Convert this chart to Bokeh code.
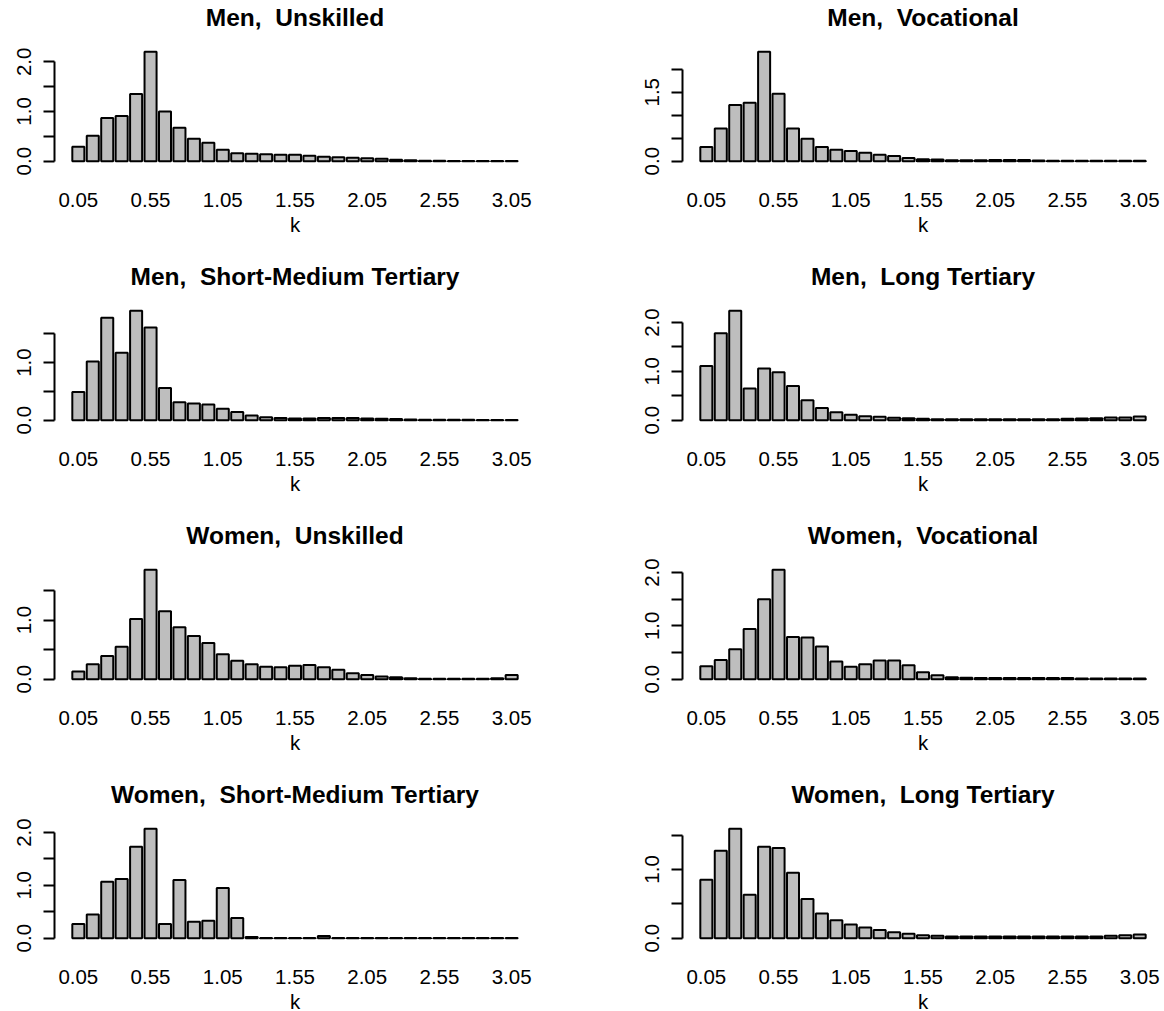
from bokeh.plotting import figure
from bokeh.layouts import gridplot
from bokeh.models import FixedTicker, NumeralTickFormatter, Range1d, ColumnDataSource, Label
from bokeh.embed import file_html
from bokeh.resources import INLINE

# bin centres (k) and x tick labels
k = [0.05, 0.15, 0.25, 0.35, 0.45, 0.55, 0.65, 0.75, 0.85, 0.95,
     1.05, 1.15, 1.25, 1.35, 1.45, 1.55, 1.65, 1.75, 1.85, 1.95,
     2.05, 2.15, 2.25, 2.35, 2.45, 2.55, 2.65, 2.75, 2.85, 2.95, 3.05]
k_labels = [0.05, 0.55, 1.05, 1.55, 2.05, 2.55, 3.05]

# titles keep the double space of the original (non-breaking so SVG keeps it)
titles = ["Men,\u00a0 Unskilled", "Men,\u00a0 Vocational",
          "Men,\u00a0 Short-Medium Tertiary", "Men,\u00a0 Long Tertiary",
          "Women,\u00a0 Unskilled", "Women,\u00a0 Vocational",
          "Women,\u00a0 Short-Medium Tertiary", "Women,\u00a0 Long Tertiary"]

men_unskilled = [0.29, 0.51, 0.87, 0.91, 1.35, 2.20, 1.00, 0.67, 0.45, 0.37,
                 0.23, 0.16, 0.15, 0.14, 0.13, 0.13, 0.11, 0.09, 0.08, 0.07,
                 0.06, 0.05, 0.03, 0.02, 0.008, 0.006, 0.005, 0.005, 0.004, 0.004, 0.004]
men_vocational = [0.31, 0.71, 1.22, 1.27, 2.38, 1.47, 0.71, 0.49, 0.31, 0.25,
                  0.22, 0.18, 0.14, 0.11, 0.07, 0.04, 0.035, 0.02, 0.02, 0.02,
                  0.025, 0.025, 0.025, 0.012, 0.01, 0.01, 0.01, 0.01, 0.01, 0.01, 0.01]
men_smt = [0.49, 1.02, 1.78, 1.17, 1.90, 1.61, 0.56, 0.31, 0.29, 0.27,
           0.20, 0.14, 0.08, 0.05, 0.035, 0.03, 0.03, 0.035, 0.035, 0.035,
           0.03, 0.025, 0.02, 0.012, 0.006, 0.005, 0.005, 0.005, 0.004, 0.004, 0.004]
men_lt = [1.11, 1.78, 2.24, 0.65, 1.06, 0.98, 0.70, 0.41, 0.25, 0.16,
          0.11, 0.08, 0.07, 0.05, 0.04, 0.03, 0.02, 0.02, 0.02, 0.02,
          0.02, 0.02, 0.02, 0.02, 0.02, 0.03, 0.035, 0.04, 0.055, 0.055, 0.075]
women_unskilled = [0.13, 0.25, 0.39, 0.55, 1.02, 1.85, 1.15, 0.88, 0.73, 0.61,
                   0.42, 0.31, 0.25, 0.21, 0.20, 0.225, 0.24, 0.20, 0.16, 0.10,
                   0.07, 0.045, 0.03, 0.015, 0.008, 0.008, 0.008, 0.008, 0.008, 0.015, 0.07]
women_vocational = [0.24, 0.36, 0.56, 0.94, 1.50, 2.05, 0.79, 0.78, 0.61, 0.33,
                    0.23, 0.28, 0.35, 0.35, 0.26, 0.13, 0.075, 0.035, 0.025, 0.02,
                    0.02, 0.02, 0.02, 0.02, 0.02, 0.02, 0.01, 0.01, 0.01, 0.01, 0.01]
women_smt = [0.27, 0.45, 1.07, 1.12, 1.73, 2.07, 0.27, 1.10, 0.31, 0.33,
             0.95, 0.38, 0.02, 0.003, 0.003, 0.003, 0.003, 0.04, 0.003, 0.003,
             0.003, 0.003, 0.003, 0.003, 0.003, 0.003, 0.003, 0.003, 0.003, 0.003, 0.003]
women_lt = [0.85, 1.27, 1.59, 0.63, 1.33, 1.31, 0.95, 0.57, 0.36, 0.26,
            0.20, 0.155, 0.12, 0.087, 0.063, 0.043, 0.034, 0.025, 0.025, 0.025,
            0.025, 0.025, 0.025, 0.025, 0.025, 0.025, 0.025, 0.025, 0.034, 0.043, 0.053]

series = [men_unskilled, men_vocational, men_smt, men_lt,
          women_unskilled, women_vocational, women_smt, women_lt]

# labelled y ticks and unlabelled y ticks per panel
y_labelled = [[0, 1.0, 2.0], [0, 1.5], [0, 1.0], [0, 1.0, 2.0],
              [0, 1.0], [0, 1.0, 2.0], [0, 1.0, 2.0], [0, 1.0]]
y_unlabelled = [[0.5, 1.5], [0.5, 1.0, 2.0], [0.5, 1.5], [0.5, 1.5],
                [0.5, 1.5], [0.5, 1.5], [0.5, 1.5], [0.5, 1.5]]

FONT = "Liberation Sans"
FRAME_W = 481          # width of the plotting region
DATA_H = 118           # height of the data part of the plotting region
X_LO, X_HI = -0.115, 3.215


def panel(i):
    vals = series[i]
    m = max(vals)
    col = i % 2
    row = i // 2
    left = 54 if col == 0 else 100
    right = 582 - FRAME_W - left
    extra = 47 if row == 0 else 68      # room above the data for the title
    y_lo, y_hi = -0.04 * m, 1.04 * m
    per_px = (y_hi - y_lo) / DATA_H
    p = figure(frame_width=FRAME_W, frame_height=DATA_H + extra,
               min_border_left=left, min_border_right=right,
               min_border_top=0, min_border_bottom=72,
               x_range=Range1d(X_LO, X_HI),
               y_range=Range1d(y_lo, y_hi + extra * per_px),
               output_backend="svg", toolbar_location=None,
               x_axis_label="k")
    p.outline_line_color = None
    p.xgrid.visible = False
    p.ygrid.visible = False
    p.background_fill_color = "white"
    p.border_fill_color = "white"

    # panel title, centred over the plotting region
    p.add_layout(Label(x=(X_LO + X_HI) / 2, y=y_hi, x_units="data", y_units="data",
                       y_offset=30, text=titles[i], text_align="center",
                       text_baseline="middle", text_font=FONT,
                       text_font_size="24.5px", text_font_style="bold",
                       text_color="black"))

    src = ColumnDataSource(dict(k=k, h=vals))
    p.vbar(x="k", top="h", bottom=0, width=1 / 12, source=src,
           fill_color="#BEBEBE", line_color="black", line_width=2)

    xa = p.xaxis[0]
    xa.ticker = FixedTicker(ticks=k_labels)
    xa.formatter = NumeralTickFormatter(format="0.00")
    xa.axis_line_color = None
    xa.major_tick_line_color = None
    xa.minor_tick_line_color = None
    xa.major_tick_out = 0
    xa.major_tick_in = 0
    xa.major_label_standoff = 27
    xa.major_label_text_font = FONT
    xa.major_label_text_font_size = "20.5px"
    xa.major_label_text_color = "black"
    xa.axis_label_standoff = 3
    xa.axis_label_text_font = FONT
    xa.axis_label_text_font_size = "20.5px"
    xa.axis_label_text_font_style = "normal"
    xa.axis_label_text_color = "black"

    ya = p.yaxis[0]
    all_ticks = y_labelled[i] + y_unlabelled[i]
    ya.ticker = FixedTicker(ticks=y_labelled[i], minor_ticks=y_unlabelled[i])
    ya.formatter = NumeralTickFormatter(format="0.0")
    ya.bounds = (0, max(all_ticks))
    ya.axis_line_width = 2
    ya.axis_line_color = "black"
    ya.major_tick_line_width = 2
    ya.minor_tick_line_width = 2
    ya.major_tick_line_color = "black"
    ya.minor_tick_line_color = "black"
    ya.major_tick_out = 11
    ya.major_tick_in = 0
    ya.minor_tick_out = 11
    ya.minor_tick_in = 0
    ya.major_label_orientation = "vertical"
    ya.major_label_standoff = 12
    ya.major_label_text_font = FONT
    ya.major_label_text_font_size = "20.5px"
    ya.major_label_text_color = "black"
    return p


figs = [panel(i) for i in range(8)]
grid = gridplot([[figs[0], figs[1]], [figs[2], figs[3]],
                 [figs[4], figs[5]], [figs[6], figs[7]]],
                toolbar_location=None)

open("out.html", "w").write(file_html(grid, INLINE))
